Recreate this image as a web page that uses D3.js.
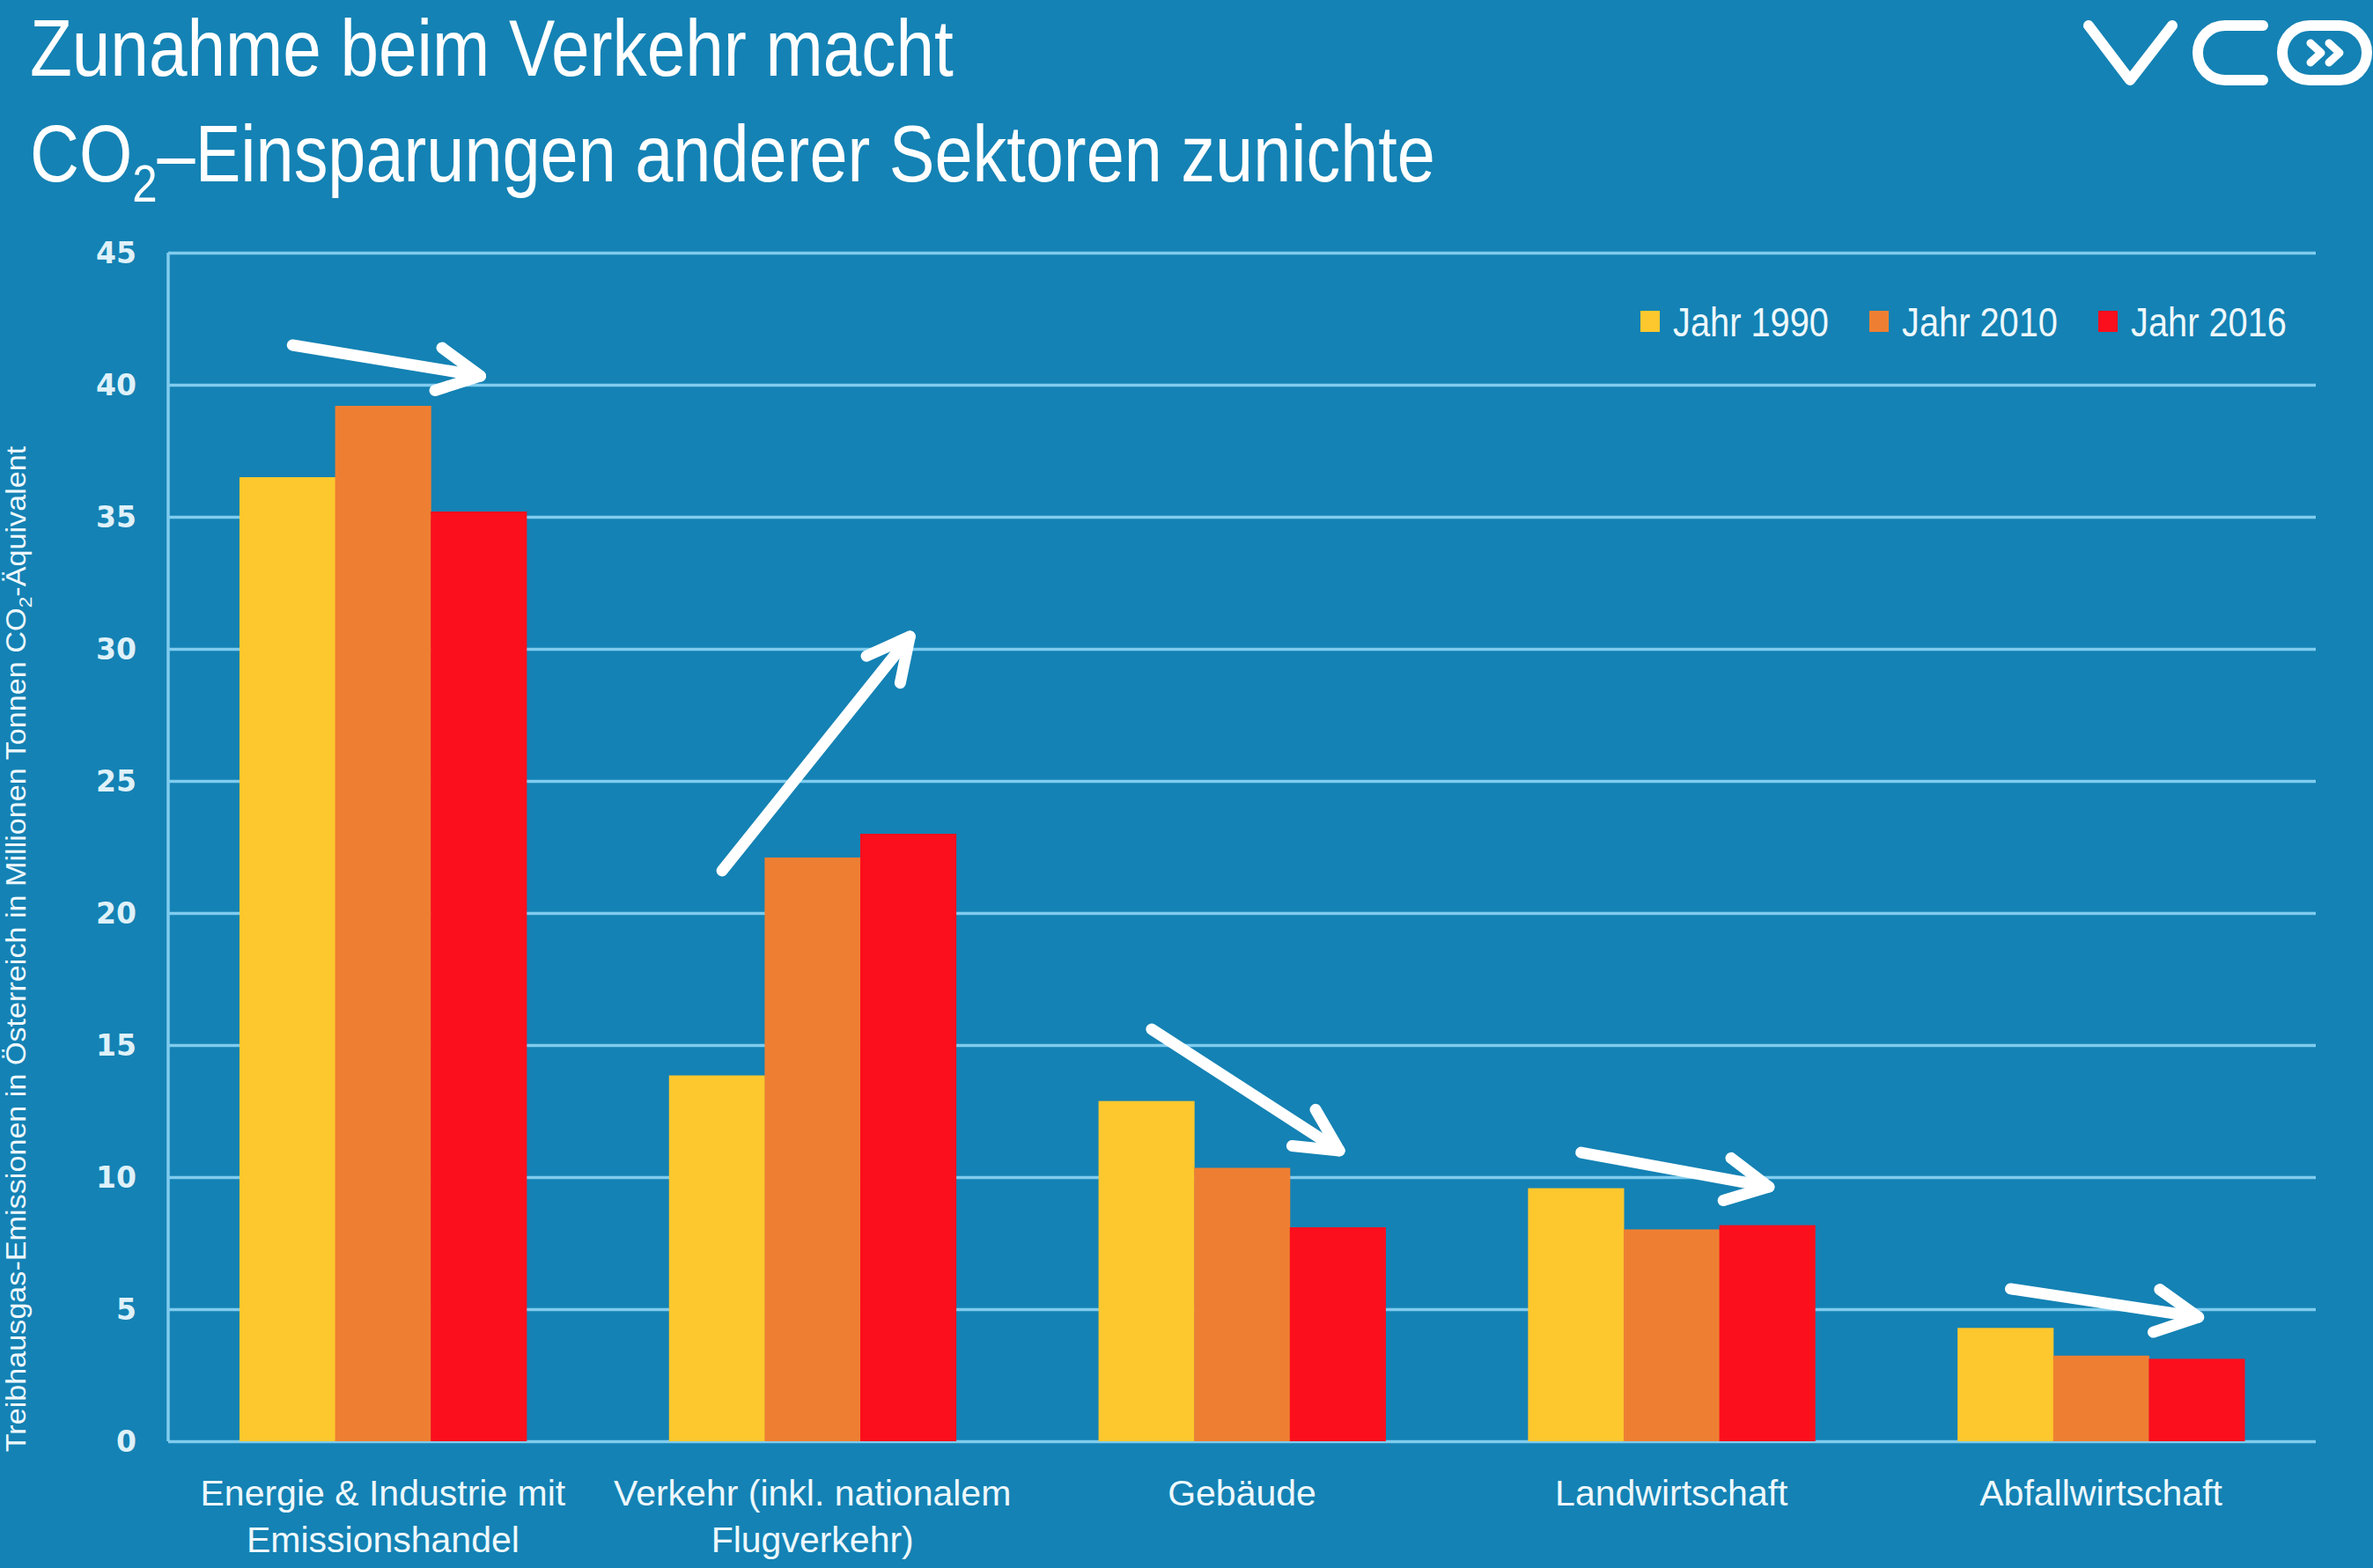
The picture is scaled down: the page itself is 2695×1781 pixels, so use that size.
<!DOCTYPE html>
<html>
<head>
<meta charset="utf-8">
<script src="https://cdn.jsdelivr.net/npm/d3@7"></script>
<style>
  body { margin: 0; background: #1482b4; }
  svg { display: block; }
</style>
</head>
<body>
<svg id="chart" width="2695" height="1781"></svg>
<script>
// Data
const sectors = [
    "Energie & Industrie mit\nEmissionshandel",
    "Verkehr (inkl. nationalem\nFlugverkehr)",
    "Gebäude",
    "Landwirtschaft",
    "Abfallwirtschaft"
];
const years = ["Jahr 1990", "Jahr 2010", "Jahr 2016"];
const values1990 = [36.5, 13.85, 12.88, 9.58, 4.29];
const values2010 = [39.2, 22.1, 10.35, 8.02, 3.24];
const values2016 = [35.2, 23.0, 8.1, 8.18, 3.12];
const yTicks = [0, 5, 10, 15, 20, 25, 30, 35, 40, 45];
// trend arrows: start above the 1990 bar, end above the 2016 bar (in data units)
const arrowFrom = [41.5, 21.6, 15.6, 10.93, 5.77];
const arrowTo = [40.33, 30.47, 11.0, 9.63, 4.7];

const colors = ["#fdc82e", "#ee7f32", "#fc0f1d"];
const bg = "#1482b4";
const gridColor = "#80ccee";
const textColor = "#eef8fc";

const svg = d3.select("#chart");
const width = +svg.attr("width");
const height = +svg.attr("height");
const margin = { left: 191, right: 65, top: 287, bottom: 144 };

svg.append("rect").attr("width", width).attr("height", height).attr("fill", bg);

const x0 = d3.scaleBand()
    .domain(sectors)
    .range([margin.left, width - margin.right])
    .paddingInner(0.332)
    .paddingOuter(0.166);
const x1 = d3.scaleBand()
    .domain(years)
    .range([0, x0.bandwidth()]);
const y = d3.scaleLinear()
    .domain([0, 45])
    .range([height - margin.bottom, margin.top]);

// fit a text element to a given width by squeezing it horizontally
function squeeze(text, target) {
    const w = text.node().getComputedTextLength();
    text.attr("transform", `scale(${target / w},1)`);
}

//Grid + axis
const yAxis = d3.axisLeft(y)
    .tickValues(yTicks)
    .tickSize(-(width - margin.left - margin.right))
    .tickPadding(36)
    .tickFormat(d3.format("d"));
const gy = svg.append("g")
    .attr("transform", `translate(${margin.left},0)`)
    .call(yAxis);
gy.select(".domain").remove();
gy.selectAll(".tick line")
    .attr("stroke", gridColor)
    .attr("stroke-width", 3.5);
gy.selectAll(".tick text")
    .attr("fill", "#dff1f9")
    .style("font-family", "DejaVu Sans")
    .style("font-weight", "bold")
    .style("font-size", "33px")
    .attr("dy", "0.36em");
svg.append("line")
    .attr("x1", margin.left).attr("x2", margin.left)
    .attr("y1", y(45)).attr("y2", y(0))
    .attr("stroke", gridColor)
    .attr("stroke-width", 3.5);

//Bars
const series = [values1990, values2010, values2016];
const bars = svg.append("g");
sectors.forEach((s, i) => {
    years.forEach((yr, j) => {
        bars.append("rect")
            .attr("x", x0(s) + x1(yr))
            .attr("y", y(series[j][i]))
            .attr("width", x1.bandwidth() + 0.5)
            .attr("height", y(0) - y(series[j][i]))
            .attr("fill", colors[j]);
    });
});

//Category labels
const xl = svg.append("g")
    .style("font-family", "Liberation Sans, Arial, sans-serif")
    .style("font-size", "41px")
    .attr("fill", textColor)
    .attr("text-anchor", "middle");
sectors.forEach(s => {
    const t = xl.append("text")
        .attr("x", x0(s) + x0.bandwidth() / 2)
        .attr("y", 1710);
    s.split("\n").forEach((line, k) => {
        t.append("tspan")
            .attr("x", x0(s) + x0.bandwidth() / 2)
            .attr("dy", k === 0 ? 0 : 53)
            .text(line);
    });
});

//Arrows
const arrows = svg.append("g")
    .attr("stroke", "#fff")
    .attr("stroke-width", 13)
    .attr("stroke-linecap", "round")
    .attr("stroke-linejoin", "round")
    .attr("fill", "none");
sectors.forEach((s, i) => {
    const xa = x0(s) + x1(years[0]) + x1.bandwidth() / 2 + 6;
    const xb = x0(s) + x1(years[2]) + x1.bandwidth() / 2 + 2;
    const ya = y(arrowFrom[i]);
    const yb = y(arrowTo[i]);
    const ang = Math.atan2(yb - ya, xb - xa);
    const len = 54, spread = 27 * Math.PI / 180;
    const h1 = [xb - len * Math.cos(ang - spread), yb - len * Math.sin(ang - spread)];
    const h2 = [xb - len * Math.cos(ang + spread), yb - len * Math.sin(ang + spread)];
    arrows.append("line")
        .attr("x1", xa).attr("y1", ya)
        .attr("x2", xb).attr("y2", yb);
    arrows.append("path")
        .attr("d", `M${h1[0]},${h1[1]} L${xb},${yb} L${h2[0]},${h2[1]}`);
});

//Legend
const legend = svg.append("g");
years.forEach((yr, j) => {
    const lx = 1863 + j * 260;
    legend.append("rect")
        .attr("x", lx).attr("y", 353)
        .attr("width", 22).attr("height", 24)
        .attr("fill", colors[j]);
    const g = legend.append("g").attr("transform", `translate(${lx + 37},382)`);
    const t = g.append("text")
        .attr("fill", textColor)
        .style("font-family", "Liberation Sans, Arial, sans-serif")
        .style("font-size", "46px")
        .text(yr);
    squeeze(t, 177);
});

//Title
const title = svg.append("g")
    .attr("fill", "#fff")
    .style("font-family", "Liberation Sans, Arial, sans-serif");
const t1 = title.append("g").attr("transform", "translate(34,86)")
    .append("text").style("font-size", "91px")
    .text("Zunahme beim Verkehr macht");
squeeze(t1, 1049);
const t2 = title.append("g").attr("transform", "translate(34,206)")
    .append("text").style("font-size", "91px");
t2.append("tspan").text("CO");
t2.append("tspan").attr("dy", 23).style("font-size", "60px").text("2");
t2.append("tspan").attr("dy", -23).text("–Einsparungen anderer Sektoren zunichte");
squeeze(t2, 1596);

//Y axis label
const yl = svg.append("g")
    .attr("transform", `translate(29,1078) rotate(-90)`)
    .append("text")
    .attr("text-anchor", "middle")
    .attr("fill", textColor)
    .style("font-family", "Liberation Sans, Arial, sans-serif")
    .style("font-size", "31px");
yl.append("tspan").text("Treibhausgas-Emissionen in Österreich in Millionen Tonnen CO");
yl.append("tspan").attr("dy", 7).style("font-size", "21px").text("2");
yl.append("tspan").attr("dy", -7).text("-Äquivalent");
squeeze(yl, 1143);

//Logo
const logo = svg.append("g")
    .attr("stroke", "#fff")
    .attr("stroke-width", 12)
    .attr("stroke-linecap", "round")
    .attr("stroke-linejoin", "round")
    .attr("fill", "none");
logo.append("path").attr("d", "M2372,29 L2419,91 L2467,29");
logo.append("path").attr("d", "M2570,29 H2527 A31,31 0 0 0 2527,91 H2570");
logo.append("rect")
    .attr("x", 2592).attr("y", 29)
    .attr("width", 96).attr("height", 62)
    .attr("rx", 31);
logo.append("path").attr("d", "M2624,49 L2636,60 L2624,71").attr("stroke-width", 9);
logo.append("path").attr("d", "M2645,49 L2657,60 L2645,71").attr("stroke-width", 9);
</script>
</body>
</html>
